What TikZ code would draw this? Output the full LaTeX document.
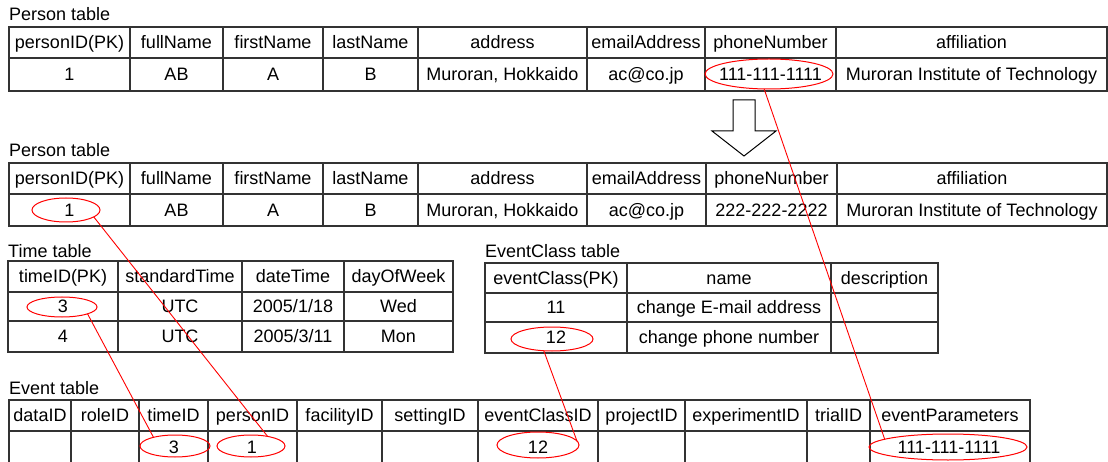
\documentclass[tikz,border=0pt]{standalone}
\usepackage{fontspec}
\setmainfont{Liberation Sans}
\usetikzlibrary{shapes.geometric}
\tikzset{
  cell/.style={draw=black!80, line width=1.2pt, inner sep=0pt, outer sep=0pt,
    anchor=north west, text height=12.9pt, text depth=0pt,
    font=\fontsize{18}{21}\selectfont},
  lbl/.style={anchor=base west, inner sep=0pt, font=\fontsize{18}{21}\selectfont},
  hl/.style={draw=red, ellipse, line width=1pt, inner sep=0pt, outer sep=0pt},
  link/.style={draw=red, line width=0.9pt},
  bigarrow/.style={draw=black, line width=1pt, fill=white, line join=miter}
}
\newcommand\tc[6]{\node[cell, minimum width={#3-#2}, minimum height={#5-#4}] (#1) at (#2,#4) {#6};}
\begin{document}
\begin{tikzpicture}[x=1pt, y=-1pt]
\useasboundingbox (0,0) rectangle (1108,462);
% ---------- Person table (before) ----------
\node[lbl] (lbl-p1) at (9,21) {Person table};
\tc{pa-h1}{9}{130}{27}{58}{personID(PK)}
\tc{pa-h2}{130}{223}{27}{58}{fullName}
\tc{pa-h3}{223}{323}{27}{58}{firstName}
\tc{pa-h4}{323}{418}{27}{58}{lastName}
\tc{pa-h5}{418}{587}{27}{58}{address}
\tc{pa-h6}{587}{705}{27}{58}{emailAddress}
\tc{pa-h7}{705}{836}{27}{58}{phoneNumber}
\tc{pa-h8}{836}{1107}{27}{58}{affiliation}
\tc{pa-r1}{9}{130}{58}{91}{1}
\tc{pa-r2}{130}{223}{58}{91}{AB}
\tc{pa-r3}{223}{323}{58}{91}{A}
\tc{pa-r4}{323}{418}{58}{91}{B}
\tc{pa-r5}{418}{587}{58}{91}{Muroran, Hokkaido}
\tc{pa-r6}{587}{705}{58}{91}{ac@co.jp}
\tc{pa-r7}{705}{836}{58}{91}{111-111-1111}
\tc{pa-r8}{836}{1107}{58}{91}{Muroran Institute of Technology}
% ---------- block arrow ----------
\draw[bigarrow] (733,100) -- (755,100) -- (755,131) -- (776,131) -- (744,156)
  -- (712,131) -- (733,131) -- cycle;
% ---------- Person table (after) ----------
\node[lbl] (lbl-p2) at (9,157) {Person table};
\tc{pb-h1}{9}{130}{163}{194}{personID(PK)}
\tc{pb-h2}{130}{223}{163}{194}{fullName}
\tc{pb-h3}{223}{323}{163}{194}{firstName}
\tc{pb-h4}{323}{418}{163}{194}{lastName}
\tc{pb-h5}{418}{587}{163}{194}{address}
\tc{pb-h6}{587}{706}{163}{194}{emailAddress}
\tc{pb-h7}{706}{837}{163}{194}{phoneNumber}
\tc{pb-h8}{837}{1107}{163}{194}{affiliation}
\tc{pb-r1}{9}{130}{194}{226}{1}
\tc{pb-r2}{130}{223}{194}{226}{AB}
\tc{pb-r3}{223}{323}{194}{226}{A}
\tc{pb-r4}{323}{418}{194}{226}{B}
\tc{pb-r5}{418}{587}{194}{226}{Muroran, Hokkaido}
\tc{pb-r6}{587}{706}{194}{226}{ac@co.jp}
\tc{pb-r7}{706}{837}{194}{226}{222-222-2222}
\tc{pb-r8}{837}{1107}{194}{226}{Muroran Institute of Technology}
% ---------- Time table ----------
\node[lbl] (lbl-t) at (8,258) {Time table};
\tc{t-h1}{8}{118}{261}{292}{timeID(PK)}
\tc{t-h2}{118}{242}{261}{292}{standardTime}
\tc{t-h3}{242}{344}{261}{292}{dateTime}
\tc{t-h4}{344}{453}{261}{292}{dayOfWeek}
\tc{t-a1}{8}{118}{292}{321}{3}
\tc{t-a2}{118}{242}{292}{321}{UTC}
\tc{t-a3}{242}{344}{292}{321}{2005/1/18}
\tc{t-a4}{344}{453}{292}{321}{Wed}
\tc{t-b1}{8}{118}{321}{352}{4}
\tc{t-b2}{118}{242}{321}{352}{UTC}
\tc{t-b3}{242}{344}{321}{352}{2005/3/11}
\tc{t-b4}{344}{453}{321}{352}{Mon}
% ---------- EventClass table ----------
\node[lbl] (lbl-ec) at (485,258) {EventClass table};
\tc{ec-h1}{485}{627}{263}{293}{eventClass(PK)}
\tc{ec-h2}{627}{831}{263}{293}{name}
\tc{ec-h3}{831}{938}{263}{293}{description}
\tc{ec-a1}{485}{627}{293}{322}{11}
\tc{ec-a2}{627}{831}{293}{322}{change E-mail address}
\tc{ec-a3}{831}{938}{293}{322}{}
\tc{ec-b1}{485}{627}{322}{353}{12}
\tc{ec-b2}{627}{831}{322}{353}{change phone number}
\tc{ec-b3}{831}{938}{322}{353}{}
% ---------- Event table ----------
\node[lbl] (lbl-ev) at (9,394) {Event table};
\tc{ev-h1}{9}{71}{400}{431}{dataID}
\tc{ev-h2}{71}{139}{400}{431}{roleID}
\tc{ev-h3}{139}{208}{400}{431}{timeID}
\tc{ev-h4}{208}{297}{400}{431}{personID}
\tc{ev-h5}{297}{382}{400}{431}{facilityID}
\tc{ev-h6}{382}{478}{400}{431}{settingID}
\tc{ev-h7}{478}{598}{400}{431}{eventClassID}
\tc{ev-h8}{598}{685}{400}{431}{projectID}
\tc{ev-h9}{685}{807}{400}{431}{experimentID}
\tc{ev-h10}{807}{870}{400}{431}{trialID}
\tc{ev-h11}{870}{1030}{400}{431}{eventParameters}
\tc{ev-r1}{9}{71}{431}{464}{}
\tc{ev-r2}{71}{139}{431}{464}{}
\tc{ev-r3}{139}{208}{431}{464}{}
\tc{ev-r4}{208}{297}{431}{464}{}
\tc{ev-r5}{297}{382}{431}{464}{}
\tc{ev-r6}{382}{478}{431}{464}{}
\tc{ev-r7}{478}{598}{431}{464}{}
\tc{ev-r8}{598}{685}{431}{464}{}
\tc{ev-r9}{685}{807}{431}{464}{}
\tc{ev-r10}{807}{870}{431}{464}{}
\tc{ev-r11}{870}{1030}{431}{464}{}
\node[lbl, anchor=base] (ev-t3) at (174,453) {3};
\node[lbl, anchor=base] (ev-t1) at (252,453) {1};
\node[lbl, anchor=base] (ev-t12) at (538,453) {12};
\node[lbl, anchor=base] (ev-tph) at (949,453) {111-111-1111};
% ---------- highlight ellipses ----------
\node[hl, minimum width=128, minimum height=30] (e-phone) at (769,74) {};
\node[hl, minimum width=68, minimum height=24] (e-p1) at (66,210) {};
\node[hl, minimum width=70, minimum height=20] (e-t3) at (62,307) {};
\node[hl, minimum width=82, minimum height=24] (e-ec12) at (552,339) {};
\node[hl, minimum width=70, minimum height=22] (e-ev3) at (175,446) {};
\node[hl, minimum width=68, minimum height=22] (e-ev1) at (251,446) {};
\node[hl, minimum width=82, minimum height=26] (e-ev12) at (538,445) {};
\node[hl, minimum width=158, minimum height=26] (e-evphone) at (948,447) {};
% ---------- red connectors ----------
\draw[link] (e-p1.-14) -- (e-ev1.30);
\draw[link] (e-t3.-15) -- (e-ev3.158);
\draw[link] (e-ec12.-125) -- (e-ev12.6);
\draw[link] (e-phone.-108) -- (e-evphone.173);
\end{tikzpicture}
\end{document}
